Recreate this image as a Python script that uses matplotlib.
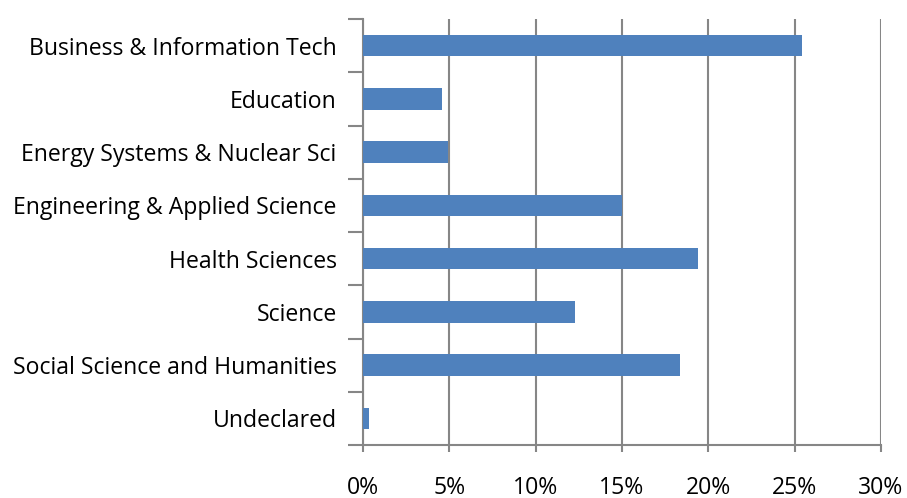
import matplotlib
matplotlib.use("Agg")
import matplotlib.pyplot as plt
from matplotlib.ticker import PercentFormatter

categories = [
    "Business & Information Tech",
    "Education",
    "Energy Systems & Nuclear Sci",
    "Engineering & Applied Science",
    "Health Sciences",
    "Science",
    "Social Science and Humanities",
    "Undeclared",
]
shares = [25.4, 4.55, 4.95, 15.0, 19.4, 12.3, 18.35, 0.37]
xticks = [0, 5, 10, 15, 20, 25, 30]

plt.rcParams["font.family"] = ["Open Sans", "DejaVu Sans"]
grey = "#868686"

fig = plt.figure(figsize=(9.07, 4.98), dpi=100)
ax = fig.add_axes([0.4002, 0.1064, 0.5711, 0.8554])

pos = list(range(len(categories)))
ax.barh(pos, shares, height=0.4, color="#4F81BD", zorder=3)
ax.set_ylim(len(categories) - 0.5, -0.5)
ax.set_xlim(0, 30)

ax.set_xticks(xticks)
ax.xaxis.set_major_formatter(PercentFormatter(decimals=0))
ax.set_yticks(pos)
ax.set_yticklabels(categories)
# tick marks sit between categories, like the spreadsheet original
ax.set_yticks([p - 0.5 for p in pos] + [len(pos) - 0.5], minor=True)
ax.tick_params(axis="y", which="major", length=0, pad=19, labelsize=16.6)
ax.tick_params(axis="y", which="minor", length=11, width=1.5, color=grey)
ax.tick_params(axis="x", length=5, width=1.5, color=grey, pad=17, labelsize=16.6)

ax.grid(axis="x", color=grey, linewidth=1.5, zorder=0)
for side in ["top", "right"]:
    ax.spines[side].set_visible(False)
for side in ["left", "bottom"]:
    ax.spines[side].set_color(grey)
    ax.spines[side].set_linewidth(1.5)

fig.savefig("out.png", dpi=100)
plt.close(fig)
